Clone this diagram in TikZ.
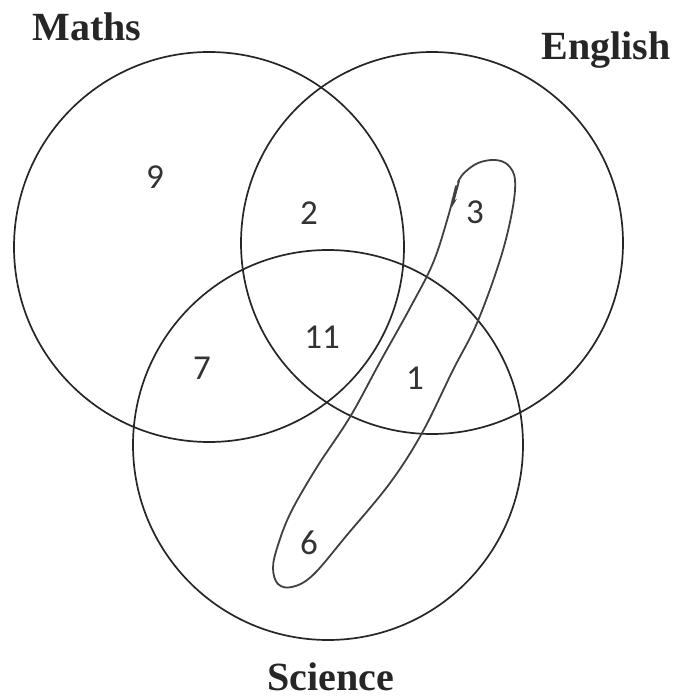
\documentclass[tikz,border=0pt]{standalone}
\usepackage{fontspec}
\setmainfont{Liberation Serif}
\newfontfamily\numfont{Carlito}
\usetikzlibrary{arrows.meta}
\tikzset{
  venn/.style={draw=black!85, line width=1.7pt},
  setlabel/.style={font=\bfseries\fontsize{40}{44}\selectfont, text=black!85, inner sep=0pt},
  count/.style={font=\numfont\fontsize{35}{40}\selectfont, text=black!80, inner sep=0pt},
  loopline/.style={draw=black!75, line width=1.8pt}
}
\begin{document}
\begin{tikzpicture}[x=1pt,y=-1pt]
\useasboundingbox (0,0) rectangle (675,698);
\fill[white] (0,0) rectangle (675,698);
% circles
\draw[venn] (209,247) circle[radius=195pt];
\draw[venn] (432,243) circle[radius=191pt];
\draw[venn] (328,445) circle[radius=195pt];
% set labels
\node[setlabel, anchor=base] (maths) at (87,41) {Maths};
\node[setlabel, anchor=base] (english) at (606,60) {English};
\node[setlabel, anchor=base] (science) at (331,690) {Science};
% region counts
\node[count] (n9) at (155,177) {9};
\node[count] (n2) at (309,213) {2};
\node[count] (n3) at (475,212) {3};
\node[count] (n11) at (322,337) {11};
\node[count] (n1) at (415,378) {1};
\node[count] (n7) at (202,368) {7};
\node[count] (n6) at (309,543) {6};
% hand-drawn loop
\draw[loopline, line cap=round, line join=round] plot[smooth, tension=0.6] coordinates {
 (456,186) (448,217) (433,263) (410,308) (380,362) (350,417) (317,467) (291,512)
 (278,545) (273,568) (278,584) (292,587) (313,575) (347,535) (390,483) (422,433) (453,370)
 (477,323) (500,260) (512,212) (515,180) (508,165) (495,160) (478,163) (464,173) (458,182)};
\draw[loopline, -{Stealth[length=9pt,width=5pt]}] (459,181) -- (452,207);
\end{tikzpicture}
\end{document}
